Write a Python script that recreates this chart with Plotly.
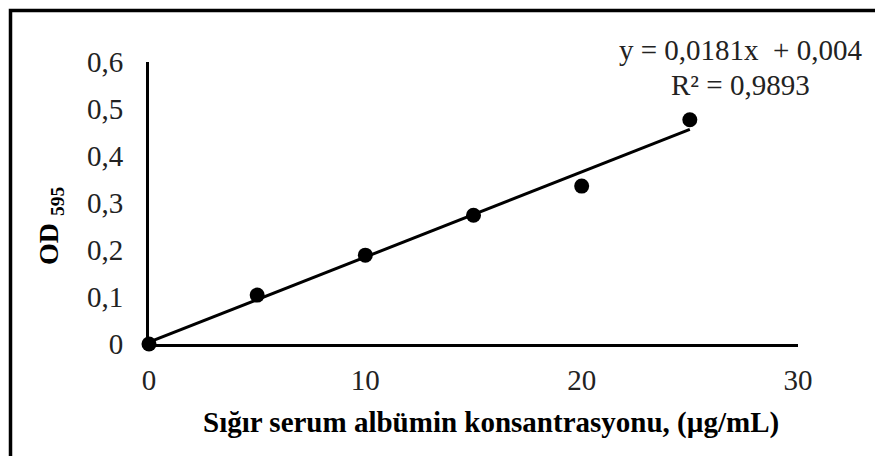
import plotly.graph_objects as go

# Bovine serum albumin standard curve (Bradford assay, OD 595)
concentration = [0, 5, 10, 15, 20, 25]
od595 = [0.0, 0.104, 0.189, 0.274, 0.336, 0.477]

slope = 0.0181
intercept = 0.004
r_squared = 0.9893

x_ticks = [0, 10, 20, 30]
y_ticks = [0, 0.1, 0.2, 0.3, 0.4, 0.5, 0.6]
y_tick_text = ["0", "0,1", "0,2", "0,3", "0,4", "0,5", "0,6"]

fit_x = [concentration[0], concentration[-1]]
fit_y = [intercept + slope * v for v in fit_x]

FONT = "Liberation Serif, Times New Roman, serif"

fig = go.Figure()
fig.add_trace(go.Scatter(
    x=fit_x, y=fit_y, mode="lines",
    line=dict(color="black", width=3),
    cliponaxis=False, showlegend=False, hoverinfo="skip",
))
fig.add_trace(go.Scatter(
    x=concentration, y=od595, mode="markers",
    marker=dict(color="black", size=15),
    cliponaxis=False, showlegend=False,
))

fig.update_layout(
    width=875, height=456,
    margin=dict(l=149, r=77, t=62, b=112),
    paper_bgcolor="white", plot_bgcolor="white",
    font=dict(family=FONT, size=29, color="black"),
    xaxis=dict(
        range=[0, 30], tickvals=x_ticks, ticktext=[str(v) for v in x_ticks],
        showgrid=False, zeroline=False, showline=True,
        linecolor="black", linewidth=3, ticks="",
        ticklabelstandoff=8,
        tickfont=dict(family=FONT, size=29, color="#222"),
    ),
    yaxis=dict(
        range=[0, 0.6], tickvals=y_ticks, ticktext=y_tick_text,
        showgrid=False, zeroline=False, showline=True,
        linecolor="black", linewidth=3, ticks="",
        ticklabelstandoff=17,
        tickfont=dict(family=FONT, size=29, color="#222"),
    ),
    shapes=[dict(
        type="rect", xref="paper", yref="paper",
        x0=-0.2134, x1=1.32, y0=-0.5, y1=1.1826,
        line=dict(color="black", width=3.5), fillcolor="rgba(0,0,0,0)",
        layer="below",
    )],
    annotations=[
        dict(
            text="<b>Sığır serum albümin konsantrasyonu, (µg/mL)</b>",
            xref="paper", yref="paper", x=(491 - 149) / 649, y=(344 - 422) / 282,
            xanchor="center", yanchor="middle", showarrow=False,
            font=dict(family=FONT, size=29, color="black"),
        ),
        dict(
            text="<b>OD <sub>595</sub></b>",
            xref="paper", yref="paper", x=(50 - 149) / 649, y=(344 - 226) / 282,
            xanchor="center", yanchor="middle", textangle=-90, showarrow=False,
            font=dict(family=FONT, size=28, color="black"),
        ),
        dict(
            text=f"y = {slope:.4f}x&nbsp; + {intercept:.3f}".replace(".", ","),
            xref="paper", yref="paper", x=(740 - 149) / 649, y=(344 - 50) / 282,
            xanchor="center", yanchor="middle", showarrow=False,
            font=dict(family=FONT, size=29, color="#222"),
        ),
        dict(
            text=f"R² = {r_squared:.4f}".replace(".", ","),
            xref="paper", yref="paper", x=(740 - 149) / 649, y=(344 - 85) / 282,
            xanchor="center", yanchor="middle", showarrow=False,
            font=dict(family=FONT, size=29, color="#222"),
        ),
    ],
)

fig.write_html("out.html")
